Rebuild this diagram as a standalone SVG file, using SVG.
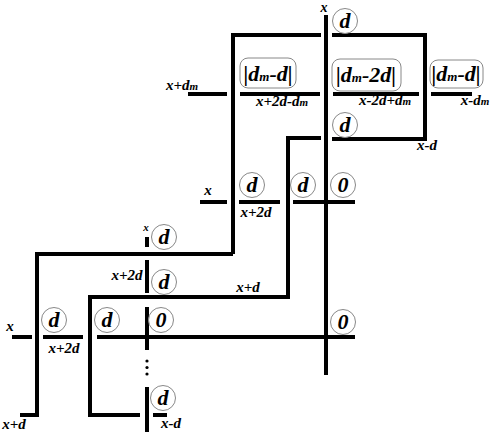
<svg xmlns="http://www.w3.org/2000/svg" width="492" height="436" viewBox="0 0 492 436">
<style>
.ln{stroke:#000;stroke-width:4;fill:none;stroke-linecap:butt}
.c{fill:#fff;stroke:#888;stroke-width:1}
.b{fill:#fff;stroke:#888;stroke-width:1}
.t{font-family:"Liberation Serif",serif;font-style:italic;font-weight:bold;fill:#000}
.big{font-size:22px}
.lab{font-size:15px}
.sm{font-size:11px}
.sub{font-size:13px}
</style>
<rect width="492" height="436" fill="#fff"/>
<g id="connectors">
<path class="ln" d="M326 15V375"/>
<path class="ln" d="M233 254V35H321M332 35H425V139H332"/>
<path class="ln" d="M321 138H288V297H90V415H140"/>
<path class="ln" d="M233 254H37V415H20"/>
<path class="ln" d="M188 94H227M240 94H320M333 94H419M431 94H472"/>
<path class="ln" d="M200 202H227M239 202H280M293 202H355"/>
<path class="ln" d="M12 337H32M43 337H83M97 337H355"/>
<path class="ln" d="M147 237V247M147 260V293M147 307V350M147 387V432M153 415H167"/>
<g fill="#000"><circle cx="147" cy="361" r="1.6"/><circle cx="147" cy="367.5" r="1.6"/><circle cx="147" cy="374" r="1.6"/></g>
</g>
<g id="labels">
<text class="t" font-size="14" x="324" y="12" text-anchor="middle">x</text>
<text class="t lab" x="166" y="90">x+d<tspan class="sm">m</tspan></text>
<text class="t lab" x="282" y="106" text-anchor="middle">x+2d-d<tspan class="sm">m</tspan></text>
<text class="t lab" x="385" y="105" text-anchor="middle">x-2d+d<tspan class="sm">m</tspan></text>
<text class="t lab" x="475" y="105" text-anchor="middle">x-d<tspan class="sm">m</tspan></text>
<text class="t lab" x="427" y="150" text-anchor="middle">x-d</text>
<text class="t lab" x="208" y="195" text-anchor="middle">x</text>
<text class="t lab" x="256" y="217" text-anchor="middle">x+2d</text>
<text class="t sm" x="146" y="231" text-anchor="middle">x</text>
<text class="t lab" x="127" y="280" text-anchor="middle">x+2d</text>
<text class="t lab" x="248" y="292" text-anchor="middle">x+d</text>
<text class="t lab" x="10" y="331" text-anchor="middle">x</text>
<text class="t lab" x="64" y="353" text-anchor="middle">x+2d</text>
<text class="t lab" x="14" y="429" text-anchor="middle">x+d</text>
<text class="t lab" x="171" y="428" text-anchor="middle">x-d</text>
</g>
<g id="box1"><rect class="b" x="240" y="58" width="56" height="30" rx="8"/><text class="t big" x="268" y="81" text-anchor="middle">|d<tspan class="sub">m</tspan>-d|</text></g>
<g id="box2"><rect class="b" x="332" y="59" width="69" height="32" rx="8"/><text class="t big" x="366" y="82" text-anchor="middle">|d<tspan class="sub">m</tspan>-2d|</text></g>
<g id="box3"><rect class="b" x="430" y="60" width="53" height="28" rx="8"/><text class="t big" x="456" y="81" text-anchor="middle">|d<tspan class="sub">m</tspan>-d|</text></g>
<g id="n1"><circle class="c" cx="345" cy="21" r="12.5"/><text class="t big" x="345" y="28" text-anchor="middle">d</text></g>
<g id="n2"><circle class="c" cx="345" cy="125" r="12.5"/><text class="t big" x="345" y="132" text-anchor="middle">d</text></g>
<g id="n3"><circle class="c" cx="252" cy="185" r="12.5"/><text class="t big" x="252" y="192" text-anchor="middle">d</text></g>
<g id="n4"><circle class="c" cx="303" cy="185" r="12.5"/><text class="t big" x="303" y="192" text-anchor="middle">d</text></g>
<g id="n5"><circle class="c" cx="343" cy="185" r="12.5"/><text class="t big" x="343" y="192" text-anchor="middle">0</text></g>
<g id="n6"><circle class="c" cx="164" cy="237" r="12.5"/><text class="t big" x="164" y="244" text-anchor="middle">d</text></g>
<g id="n7"><circle class="c" cx="164" cy="282" r="12.5"/><text class="t big" x="164" y="289" text-anchor="middle">d</text></g>
<g id="n8"><circle class="c" cx="54" cy="320" r="12.5"/><text class="t big" x="54" y="327" text-anchor="middle">d</text></g>
<g id="n9"><circle class="c" cx="107" cy="320" r="12.5"/><text class="t big" x="107" y="327" text-anchor="middle">d</text></g>
<g id="n10"><circle class="c" cx="161" cy="320" r="12.5"/><text class="t big" x="161" y="327" text-anchor="middle">0</text></g>
<g id="n11"><circle class="c" cx="343" cy="322" r="12.5"/><text class="t big" x="343" y="329" text-anchor="middle">0</text></g>
<g id="n12"><circle class="c" cx="163" cy="398" r="12.5"/><text class="t big" x="163" y="405" text-anchor="middle">d</text></g>
</svg>
